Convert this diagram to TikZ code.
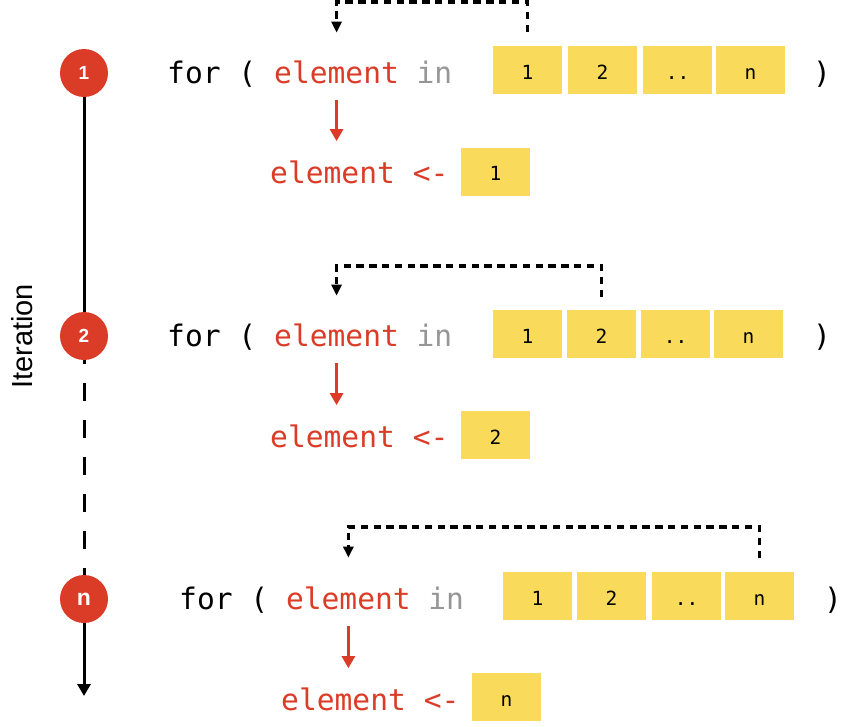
\documentclass[tikz,border=0pt]{standalone}
\usepackage{fontspec}
\setmainfont{Liberation Sans}
\setsansfont{Liberation Sans}
\setmonofont{DejaVu Sans Mono}
\usetikzlibrary{arrows.meta,calc}
\definecolor{cred}{RGB}{219,60,40}
\definecolor{cyel}{RGB}{249,218,91}
\definecolor{cgray}{RGB}{150,150,150}
\tikzset{
 code/.style={font=\fontsize{29.6}{32}\selectfont\ttfamily, inner sep=0pt, anchor=base west},
 cell/.style={fill=cyel, minimum width=69pt, minimum height=48pt, inner sep=0pt, text height=18pt, text depth=0pt, font=\fontsize{19.5}{20}\selectfont\ttfamily},
 iter/.style={circle, fill=cred, minimum size=48pt, inner sep=0pt, text=white, font=\fontsize{19}{20}\selectfont\sffamily\bfseries},
 redarr/.style={draw=cred, line width=2.7pt, -{Triangle[width=13pt,length=12pt]}},
 dotarr/.style={line width=3.5pt, dash pattern=on 7.3pt off 5.5pt, -{Triangle[width=10pt,length=11pt]}},
 timeline/.style={line width=3pt},
}
\begin{document}
\begin{tikzpicture}[x=1pt,y=-1pt]
\useasboundingbox (0,0) rectangle (867,726);
% label
\node[rotate=90, inner sep=0pt, font=\fontsize{29}{30}\selectfont\sffamily] (lab) at (22.6,336.5) {Iteration};
% circles
\node[iter] (c1) at (84,73) {1};
\node[iter] (c2) at (84,336) {2};
\node[iter, font=\fontsize{23}{24}\selectfont\sffamily\bfseries] (cn) at (84,599) {n};
\coordinate (tend) at (84,696);
\draw[timeline] (c1) -- (c2);
\draw[timeline, dash pattern=on 18pt off 19pt, dash phase=14pt] (c2.south) -- (cn.north);
\draw[timeline, -{Triangle[width=13pt,length=12pt]}] (cn) -- (tend);
% ---------- row 1
\node[code] (for1) at (167,83) {for (};
\node[code,text=cred] (el1) at (274,83) {element};
\node[code,text=cgray] (in1) at (416.4,83) {in};
\node[cell] (b11) at (527.5,70) {1};
\node[cell] (b12) at (602.5,70) {2};
\node[cell] (b13) at (677.5,70) {..};
\node[cell] (b14) at (750.5,70) {n};
\node[code] (cp1) at (813,83) {)};
\node[code,text=cred] (res1) at (270,183) {element <-};
\node[cell] (r1) at (495.5,171.5) {1};
\draw[redarr] ($(el1.south)+(0,16)$) -- ($(el1.south |- res1.north)+(0,-19)$);
\draw[dotarr] ($(b11.north)+(0,-14)$) -- ++(0,-30) -| ($(el1.north)+(0,-27.5)$);
% ---------- row 2
\node[code] (for2) at (167,346) {for (};
\node[code,text=cred] (el2) at (274,346) {element};
\node[code,text=cgray] (in2) at (416.4,346) {in};
\node[cell] (b21) at (527.5,334) {1};
\node[cell] (b22) at (601.5,334) {2};
\node[cell] (b23) at (675.5,334) {..};
\node[cell] (b24) at (748.5,334) {n};
\node[code] (cp2) at (813,346) {)};
\node[code,text=cred] (res2) at (270,447) {element <-};
\node[cell] (r2) at (495.5,435) {2};
\draw[redarr] ($(el2.south)+(0,16)$) -- ($(el2.south |- res2.north)+(0,-19)$);
\draw[dotarr] ($(b22.north)+(0,-13)$) -- ++(0,-31) -| ($(el2.north)+(0,-27.5)$);
% ---------- row 3
\node[code] (for3) at (179,609) {for (};
\node[code,text=cred] (el3) at (285.8,609) {element};
\node[code,text=cgray] (in3) at (428.2,609) {in};
\node[cell] (b31) at (537.5,596) {1};
\node[cell] (b32) at (611.5,596) {2};
\node[cell] (b33) at (686.5,596) {..};
\node[cell] (b34) at (759.5,596) {n};
\node[code] (cp3) at (824,609) {)};
\node[code,text=cred] (res3) at (281,710) {element <-};
\node[cell] (r3) at (506.5,697) {n};
\draw[redarr] ($(el3.south)+(0,16)$) -- ($(el3.south |- res3.north)+(0,-19)$);
\draw[dotarr] ($(b34.north)+(0,-14)$) -- ++(0,-31) -| ($(el3.north)+(0,-28.5)$);
\end{tikzpicture}
\end{document}
